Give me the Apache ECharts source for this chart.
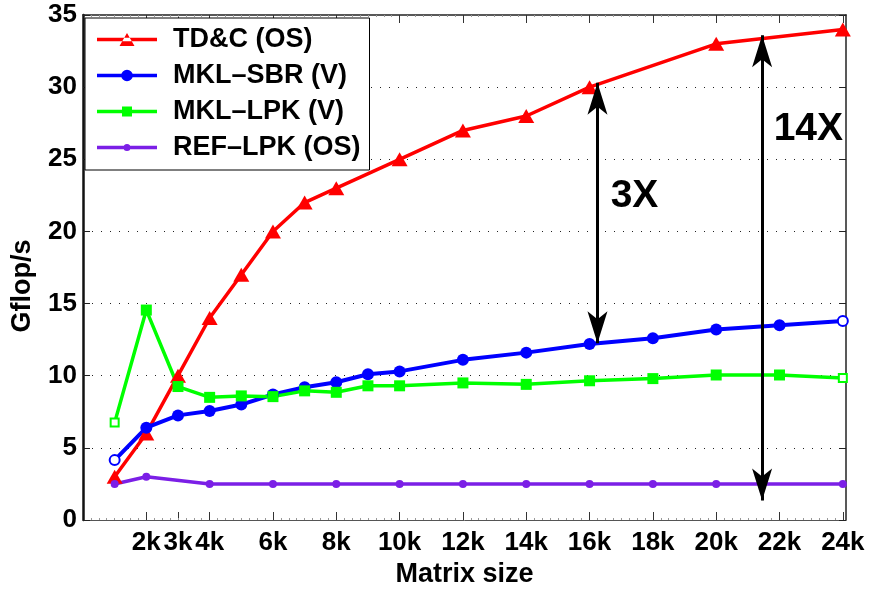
<!DOCTYPE html>
<html>
<head>
<meta charset="utf-8">
<script src="https://cdn.jsdelivr.net/npm/echarts@6/dist/echarts.min.js"></script>
<style>
  html, body { margin: 0; padding: 0; background: #fff; }
  #chart { width: 869px; height: 589px; }
</style>
</head>
<body>
<div id="chart"></div>
<script>
const FONT = '"Liberation Sans", Arial, Helvetica, sans-serif';

// Matrix sizes (thousands) and measured Gflop/s for each implementation
const tdcSizes  = [1, 2, 3, 4, 5, 6, 7, 8, 10, 12, 14, 16, 20, 24];
const tdcGflops = [3.0, 6.0, 10.0, 14.0, 17.0, 20.0, 22.0, 23.0, 25.0, 27.0, 28.0, 30.0, 33.0, 34.0];

const sbrSizes  = [1, 2, 3, 4, 5, 6, 7, 8, 9, 10, 12, 14, 16, 18, 20, 22, 24];
const sbrGflops = [4.15, 6.4, 7.25, 7.55, 8.0, 8.7, 9.2, 9.55, 10.1, 10.3, 11.1, 11.6, 12.2, 12.6, 13.2, 13.5, 13.8];

const lpkSizes  = [1, 2, 3, 4, 5, 6, 7, 8, 9, 10, 12, 14, 16, 18, 20, 22, 24];
const lpkGflops = [6.75, 14.55, 9.25, 8.5, 8.6, 8.55, 8.95, 8.85, 9.3, 9.3, 9.5, 9.4, 9.65, 9.8, 10.05, 10.05, 9.85];

const refSizes  = [1, 2, 4, 6, 8, 10, 12, 14, 16, 18, 20, 24];
const refGflops = [2.5, 3.0, 2.5, 2.5, 2.5, 2.5, 2.5, 2.5, 2.5, 2.5, 2.5, 2.5];

const seriesNames = ['TD&C (OS)', 'MKL\u2013SBR (V)', 'MKL\u2013LPK (V)', 'REF\u2013LPK (OS)'];
const xTickValues = [2, 3, 4, 6, 8, 10, 12, 14, 16, 18, 20, 22, 24];

// Speed-up annotations (double arrows between curves, with their labels)
const speedupArrows = [
  { size: 16.25, from: 30.3, to: 12.25 },
  { size: 21.45, from: 33.6, to: 1.35 }
];
const speedupLabels = [
  { text: '3X',  size: 17.42, gflops: 22.45 },
  { text: '14X', size: 22.91, gflops: 27.1 }
];

const COLORS = ['#ff0000', '#0000ff', '#00ff00', '#7b1fe6'];

function toPoints(xs, ys, hollowEnds, hollowSymbol, hollowSize) {
  return xs.map((x, i) => {
    const item = { value: [x, ys[i]] };
    if (hollowEnds && (i === 0 || i === xs.length - 1)) {
      item.symbol = hollowSymbol;
      item.symbolSize = hollowSize;
      item.itemStyle = { borderWidth: 3 };
    }
    return item;
  });
}

// Arrow head size at each end of a speed-up arrow
const ARROW_HEAD = { symbolSize: [15, 32] };
function arrowEnd(x, y) {
  return Object.assign({ coord: [x, y] }, ARROW_HEAD);
}

// Legend glyphs: a 60x16 box holding a thick line and the series marker
const BOX = 'M0,0 L0,0 Z M60,16 L60,16 Z ';
const LINE = 'M0,6.25 L60,6.25 L60,9.75 L0,9.75 Z ';
const legendIcons = [
  'path://' + BOX + LINE + 'M22.5,14.5 L37.5,14.5 L30,1.5 Z',
  'path://' + BOX + LINE + 'M35.8,8 A5.8,5.8 0 1 1 24.2,8 A5.8,5.8 0 1 1 35.8,8 Z',
  'path://' + BOX + LINE + 'M25,3 L35,3 L35,13 L25,13 Z',
  'path://' + BOX + LINE + 'M33.5,8 A3.5,3.5 0 1 1 26.5,8 A3.5,3.5 0 1 1 33.5,8 Z'
];

const tickFont = { fontSize: 26, fontWeight: 'bold', color: '#000', fontFamily: FONT };
const nameFont = { fontSize: 27, fontWeight: 'bold', color: '#000', fontFamily: FONT };

const chart = echarts.init(document.getElementById('chart'), null, { renderer: 'canvas' });

chart.setOption({
  animation: false,
  backgroundColor: '#fff',
  grid: { left: 83, right: 23, top: 15, bottom: 69, containLabel: false, outerBoundsMode: 'none' },
  legend: {
    orient: 'vertical',
    left: 85, top: 18,
    padding: [8, 9, 9, 12],
    itemWidth: 60, itemHeight: 16, itemGap: 9,
    backgroundColor: '#fff',
    borderColor: '#000', borderWidth: 1, borderRadius: 0,
    selectedMode: false,
    itemStyle: { borderWidth: 0 },
    textStyle: { fontSize: 27, fontWeight: 'bold', color: '#000', fontFamily: FONT, lineHeight: 27, padding: [0, 0, 0, 11] },
    data: seriesNames.map((n, i) => ({ name: n, icon: legendIcons[i] }))
  },
  xAxis: [{
    type: 'value', position: 'bottom', min: 0, max: 24.1, interval: 2,
    name: 'Matrix size', nameLocation: 'middle', nameGap: 37, nameTextStyle: nameFont,
    axisLine: { show: true, onZero: false, lineStyle: { color: '#555', width: 1 } },
    axisTick: { show: true, inside: true, length: 8, customValues: xTickValues, lineStyle: { color: '#333', width: 1 } },
    minorTick: { show: true, splitNumber: 8, length: 2, lineStyle: { color: '#999', width: 1 } },
    axisLabel: Object.assign({ margin: 10, customValues: xTickValues, formatter: v => v + 'k' }, tickFont),
    splitLine: { show: false }
  }, {
    type: 'value', position: 'top', min: 0, max: 24.1, interval: 2,
    axisLine: { show: true, onZero: false, lineStyle: { color: '#222', width: 1.5 } },
    axisTick: { show: true, inside: true, length: 8, customValues: xTickValues, lineStyle: { color: '#333', width: 1 } },
    minorTick: { show: true, splitNumber: 8, length: 2, lineStyle: { color: '#999', width: 1 } },
    axisLabel: { show: false },
    splitLine: { show: false }
  }],
  yAxis: [{
    type: 'value', position: 'left', min: 0, max: 35, interval: 5,
    name: 'Gflop/s', nameLocation: 'middle', nameGap: 47, nameRotate: 90,
    nameTextStyle: Object.assign({ padding: [0, 37, 0, 0] }, nameFont),
    axisLine: { show: true, onZero: false, lineStyle: { color: '#111', width: 2.5 } },
    axisTick: { show: true, inside: true, length: 7, lineStyle: { color: '#222', width: 1 } },
    axisLabel: Object.assign({ margin: 6 }, tickFont),
    splitLine: { show: true, showMinLine: false, showMaxLine: false, lineStyle: { color: '#222', width: 1, type: [1, 8] } }
  }, {
    type: 'value', position: 'right', min: 0, max: 35, interval: 5,
    axisLine: { show: true, onZero: false, lineStyle: { color: '#222', width: 1.5 } },
    axisTick: { show: true, inside: true, length: 7, lineStyle: { color: '#222', width: 1 } },
    axisLabel: { show: false },
    splitLine: { show: false }
  }],
  series: [{
    name: seriesNames[0], type: 'line', color: COLORS[0],
    data: toPoints(tdcSizes, tdcGflops, false),
    symbol: 'triangle', symbolSize: [16, 14], showSymbol: true,
    lineStyle: { color: COLORS[0], width: 3.5 },
    itemStyle: { color: COLORS[0] },
    emphasis: { disabled: true }
  }, {
    name: seriesNames[1], type: 'line', color: COLORS[1],
    data: toPoints(sbrSizes, sbrGflops, true, 'emptyCircle', 10),
    symbol: 'circle', symbolSize: 12, showSymbol: true,
    lineStyle: { color: COLORS[1], width: 4 },
    itemStyle: { color: COLORS[1] },
    emphasis: { disabled: true }
  }, {
    name: seriesNames[2], type: 'line', color: COLORS[2],
    data: toPoints(lpkSizes, lpkGflops, true, 'emptyRect', 8),
    symbol: 'rect', symbolSize: 11, showSymbol: true,
    lineStyle: { color: COLORS[2], width: 3.5 },
    itemStyle: { color: COLORS[2] },
    emphasis: { disabled: true }
  }, {
    name: seriesNames[3], type: 'line', color: COLORS[3],
    data: toPoints(refSizes, refGflops, false),
    symbol: 'circle', symbolSize: 8, showSymbol: true,
    lineStyle: { color: COLORS[3], width: 3.5 },
    itemStyle: { color: COLORS[3] },
    emphasis: { disabled: true },
    markLine: {
      silent: true, animation: false,
      symbol: ['arrow', 'arrow'],
      lineStyle: { color: '#000', width: 3, type: 'solid' },
      itemStyle: { color: '#000' },
      label: { show: false },
      emphasis: { disabled: true },
      data: speedupArrows.map(a => [arrowEnd(a.size, a.from), arrowEnd(a.size, a.to)])
    },
    markPoint: {
      silent: true, animation: false,
      symbol: 'circle', symbolSize: 0,
      itemStyle: { color: 'transparent' },
      label: { show: true, position: 'inside', formatter: p => p.name, fontSize: 39, fontWeight: 'bold', color: '#000', fontFamily: FONT },
      data: speedupLabels.map(l => ({ name: l.text, coord: [l.size, l.gflops] }))
    }
  }]
});
</script>
</body>
</html>
